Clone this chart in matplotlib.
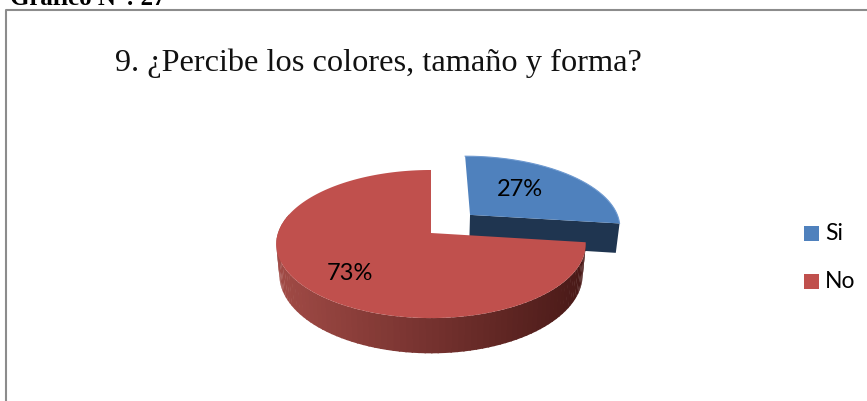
import matplotlib
matplotlib.use("Agg")
import matplotlib.pyplot as plt
import numpy as np
from matplotlib.colors import to_rgb
from matplotlib.patches import Rectangle

categories = ["Si", "No"]
values = [27, 73]
title = "9. ¿Percibe los colores, tamaño y forma?"
header = "Gráfico N°: 27"

top_colors = ["#4f81bd", "#c0504d"]
blue_side = "#1f3550"
red_side_left = "#a04a45"
red_side_right = "#4a1a18"

# perspective projection of the pie disc onto the picture (pixels)
APEX_X, APEX_Y = 431, 233
RX, RY = 153, 72.4
PERSP = 0.149
DEPTH = 30
TAPER = 0.02  # the underside looks a bit smaller than the top


def project(u, v, drop=0.0):
    d = 1 + PERSP * v
    return (APEX_X + RX * (1 - TAPER * drop) * u / d,
            APEX_Y - RY * v / d + drop * DEPTH / d)


EXPLODE = (0.265, 0.26)


def arc(a0, a1, off=(0, 0), n=160):
    # angles clockwise from 12 o'clock
    t = np.radians(np.linspace(a0, a1, n))
    return np.sin(t) + off[0], np.cos(t) + off[1]


def wedge(a0, a1, off=(0, 0)):
    u, v = arc(a0, a1, off)
    u = np.r_[off[0], u]
    v = np.r_[off[1], v]
    return project(u, v)


fig = plt.figure(figsize=(8.67, 4.01), dpi=100)
ax = fig.add_axes([0, 0, 1, 1])
ax.set_xlim(0, 867)
ax.set_ylim(401, 0)
ax.axis("off")

# frame of the pasted chart, cut by the page on the right and bottom
ax.plot([6, 6, 867], [401, 10, 10], color="#8c8c8c", lw=1.5)
ax.text(10, 5, header, family="Liberation Serif", fontweight="bold", fontsize=18,
        ha="left", va="baseline", color="black")
ax.text(115, 71.5, title, family="Liberation Serif", fontsize=23.3, ha="left",
        va="baseline", color="#111111")

blue_end = 360 * values[0] / sum(values)

# exploded blue slice: cut face first, then its top
u0, v0 = EXPLODE
ue = np.sin(np.radians(blue_end)) + u0
ve = np.cos(np.radians(blue_end)) + v0
xa, ya = project(np.array([u0, ue]), np.array([v0, ve]))
xb, yb = project(np.array([ue, u0]), np.array([ve, v0]), drop=1)
ax.fill(np.r_[xa, xb], np.r_[ya, yb], color=blue_side, lw=0, zorder=2)
x, y = wedge(0, blue_end, EXPLODE)
ax.fill(x, y, color=top_colors[0], lw=0, zorder=3)
ax.plot(x[1:], y[1:], color="#6f9ad0", lw=0.8, zorder=3)

# red slice wall, split in strips for the shading
c_left = np.array(to_rgb(red_side_left))
c_right = np.array(to_rgb(red_side_right))
edges = np.linspace(blue_end, 285, 90)
for a0, a1 in zip(edges[:-1], edges[1:]):
    u, v = arc(a0, a1 + 0.5, n=6)
    xt, yt = project(u, v)
    xd, yd = project(u, v, drop=1)
    f = np.clip((xt.mean() - 280) / 300, 0, 1)
    ax.fill(np.r_[xt, xd[::-1]], np.r_[yt, yd[::-1]],
            color=c_left + (c_right - c_left) * f, lw=0, zorder=4)

x, y = wedge(blue_end, 360)
ax.fill(x, y, color=top_colors[1], lw=0, zorder=5)

# percent labels
label_pos = [(520, 190), (350, 274)]
for val, (lx, ly) in zip(values, label_pos):
    ax.text(lx, ly, f"{val}%", family="Lato", fontsize=17, ha="center", va="center",
            color="black", zorder=6)

# legend
legend_y = [233.5, 281.5]
for name, col, ly in zip(categories, top_colors, legend_y):
    ax.add_patch(Rectangle((804, ly - 7.5), 15, 15, color=col, lw=0))
    ax.text(825, ly, name, family="Lato", fontsize=16.5, ha="left", va="center", color="black")

fig.savefig("out.png", dpi=100)
